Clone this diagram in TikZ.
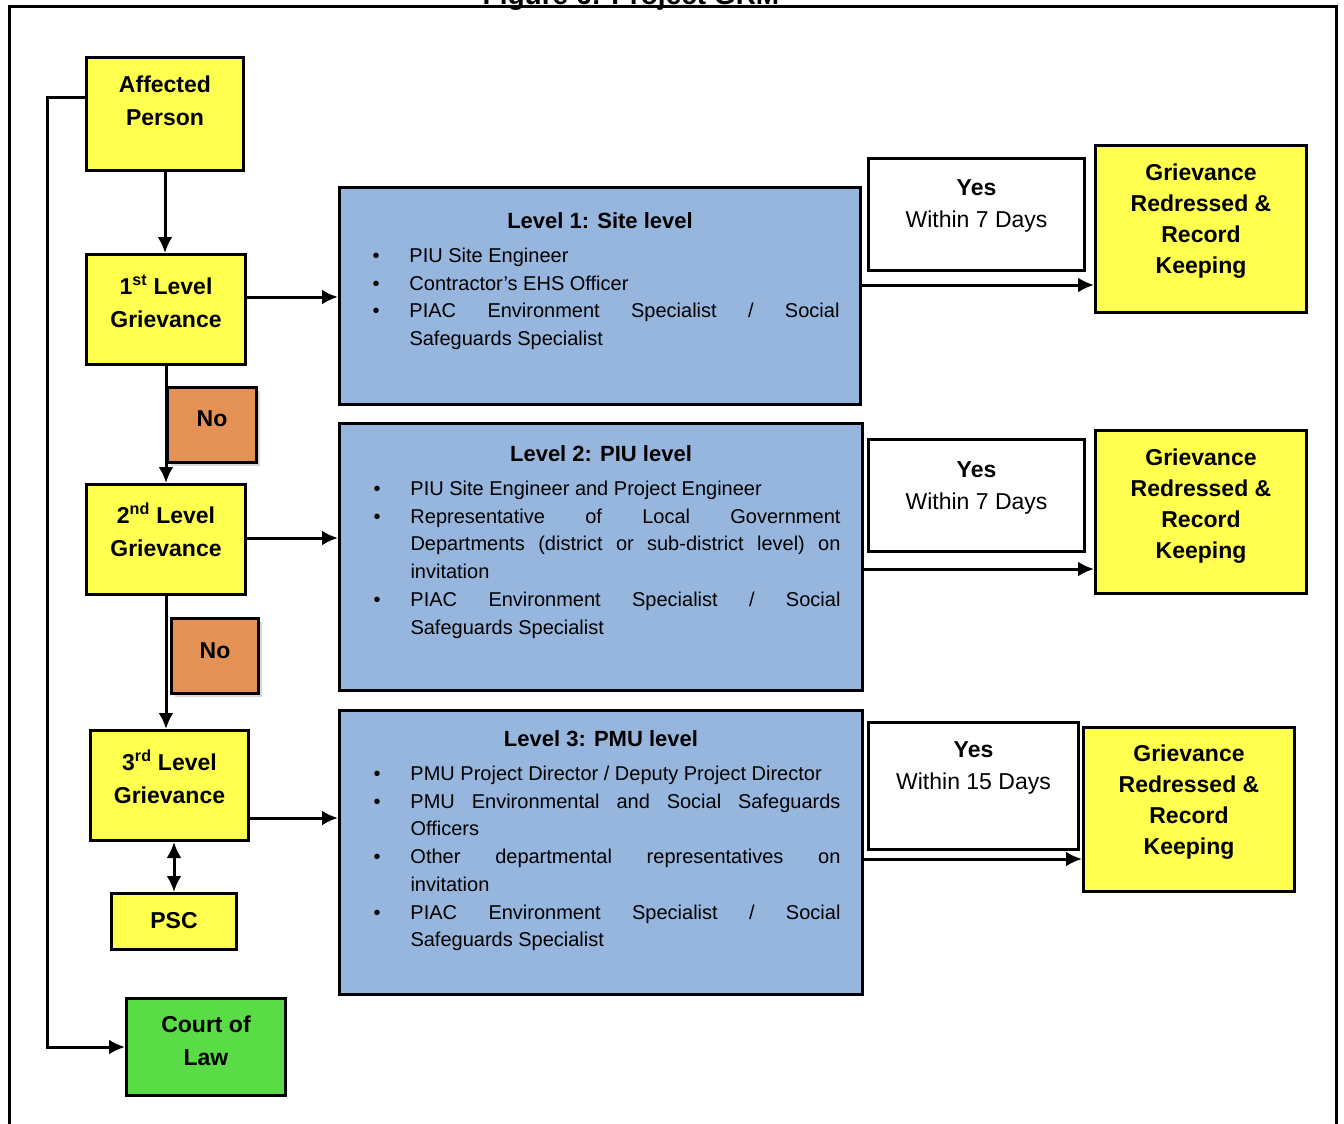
\documentclass[tikz,border=0pt]{standalone}
\usepackage{fontspec}
\setmainfont{Liberation Sans}
\usepackage{tikz}
\usetikzlibrary{shapes, arrows.meta, positioning, shadows}
\definecolor{gyellow}{RGB}{255,255,80}
\definecolor{gorange}{RGB}{228,145,85}
\definecolor{gblue}{RGB}{150,182,222}
\definecolor{ggreen}{RGB}{90,220,70}
\tikzstyle{block} = [draw, line width=3pt, rectangle, anchor=north west,
    inner sep=0pt, align=center, font=\fontsize{23}{33}\selectfont\bfseries]
\tikzstyle{level} = [block, fill=gyellow]
\tikzstyle{answer} = [block, fill=gorange,
    drop shadow={shadow xshift=3pt, shadow yshift=-3pt, fill=black!30}]
\tikzstyle{done} = [block, fill=gyellow, font=\fontsize{23}{31}\selectfont\bfseries]
\tikzstyle{yesbox} = [block, fill=white, font=\fontsize{23}{32}\selectfont]
\tikzstyle{panel} = [draw, line width=3pt, fill=gblue, anchor=north west,
    inner xsep=21pt, inner ysep=0pt, text width=479pt, align=justify,
    font=\fontsize{20}{27.7}\selectfont]
\tikzstyle{line} = [draw, line width=3pt]
\newcommand{\heading}[1]{{\centering\fontsize{22}{27.7}\selectfont\bfseries #1\par}\vspace{6.3pt}}
\newcommand{\bitem}[1]{\noindent\hangindent=49pt\hangafter=1\makebox[49pt][l]{\hspace*{12pt}\textbullet}#1\par}

\begin{document}
\begin{tikzpicture}[x=1pt, y=-1pt, >={Latex[length=16pt,width=15pt]}]
    \path[use as bounding box] (0,0) rectangle (1344,1124);
    \clip (0,0) rectangle (1344,1124);
    % caption, cut by the page edge
    \node [anchor=base, font=\fontsize{28}{28}\selectfont\bfseries] (caption) at (631,5) {Figure 6: Project GRM};
    \draw [line width=3pt] (9,1130) -- (9,7) -- (1336,7) -- (1336,1130);

    % left column
    \node [level, minimum width=157pt, text height=68pt, text depth=45pt] (person) at (85,56) {Affected\\Person};
    \node [level, minimum width=159pt, text height=73pt, text depth=37pt] (first) at (85,253) {1\textsuperscript{st} Level\\Grievance};
    \node [level, minimum width=159pt, text height=72pt, text depth=38pt] (second) at (85,483) {2\textsuperscript{nd} Level\\Grievance};
    \node [level, minimum width=158pt, text height=73pt, text depth=37pt] (third) at (89,729) {3\textsuperscript{rd} Level\\Grievance};
    \node [level, minimum width=125pt, text height=35pt, text depth=21pt] (psc) at (110,892) {PSC};
    \node [block, fill=ggreen, minimum width=159pt, text height=67pt, text depth=30pt] (court) at (125,997) {Court of\\Law};
    \node [answer, minimum width=89pt, text height=39pt, text depth=36pt] (nofirst) at (166,386) {No};
    \node [answer, minimum width=87pt, text height=40pt, text depth=35pt] (nosecond) at (170,617) {No};

    % committees
    \node [panel, text height=41pt, text depth=176pt] (site) at (338,186) {\heading{Level 1: Site level}%
        \bitem{PIU Site Engineer}%
        \bitem{Contractor’s EHS Officer}%
        \bitem{PIAC Environment Specialist / Social\linebreak Safeguards Specialist}};
    \node [panel, minimum width=523pt, text height=38pt, text depth=229pt] (piu) at (338,422) {\heading{Level 2: PIU level}%
        \bitem{PIU Site Engineer and Project Engineer}%
        \bitem{Representative of Local Government\linebreak Departments (district or sub-district level) on\linebreak invitation}%
        \bitem{PIAC Environment Specialist / Social\linebreak Safeguards Specialist}};
    \node [panel, minimum width=523pt, text height=36pt, text depth=248pt] (pmu) at (338,709) {\heading{Level 3: PMU level}%
        \bitem{PMU Project Director / Deputy Project Director}%
        \bitem{PMU Environmental and Social Safeguards\linebreak Officers}%
        \bitem{Other departmental representatives on\linebreak invitation}%
        \bitem{PIAC Environment Specialist / Social\linebreak Safeguards Specialist}};

    % outcomes
    \node [yesbox, minimum width=216pt, text height=69pt, text depth=43pt] (yesfirst) at (867,157) {\textbf{Yes}\\Within 7 Days};
    \node [yesbox, minimum width=216pt, text height=70pt, text depth=42pt] (yessecond) at (867,438) {\textbf{Yes}\\Within 7 Days};
    \node [yesbox, minimum width=210pt, text height=67pt, text depth=60pt] (yesthird) at (867,721) {\textbf{Yes}\\Within 15 Days};
    \node [done, minimum width=211pt, text height=128pt, text depth=39pt] (donefirst) at (1094,144) {Grievance\\Redressed \&\\Record\\Keeping};
    \node [done, minimum width=211pt, text height=128pt, text depth=35pt] (donesecond) at (1094,429) {Grievance\\Redressed \&\\Record\\Keeping};
    \node [done, minimum width=211pt, text height=127pt, text depth=37pt] (donethird) at (1082,726) {Grievance\\Redressed \&\\Record\\Keeping};

    % connectors
    \draw [line, ->] (person.south) -- (person.south |- first.north);
    \draw [line, ->] (first.south) -- (first.south |- second.north);
    \draw [line, ->] (second.south) -- (second.south |- third.north);
    \draw [line, <->] (psc.north |- third.south) -- (psc.north);
    \draw [line, ->] ([yshift=17pt]person.west) -- ++(-38,0) |- (court.west);
    \draw [line, ->] (first.east |- 0,297) -- (site.west |- 0,297);
    \draw [line, ->] (second.east |- 0,538) -- (piu.west |- 0,538);
    \draw [line, ->] (third.east |- 0,818) -- (pmu.west |- 0,818);
    \draw [line, ->] (site.east |- 0,285) -- (donefirst.west |- 0,285);
    \draw [line, ->] (piu.east |- 0,569) -- (donesecond.west |- 0,569);
    \draw [line, ->] (pmu.east |- 0,859) -- (donethird.west |- 0,859);
\end{tikzpicture}
\end{document}
